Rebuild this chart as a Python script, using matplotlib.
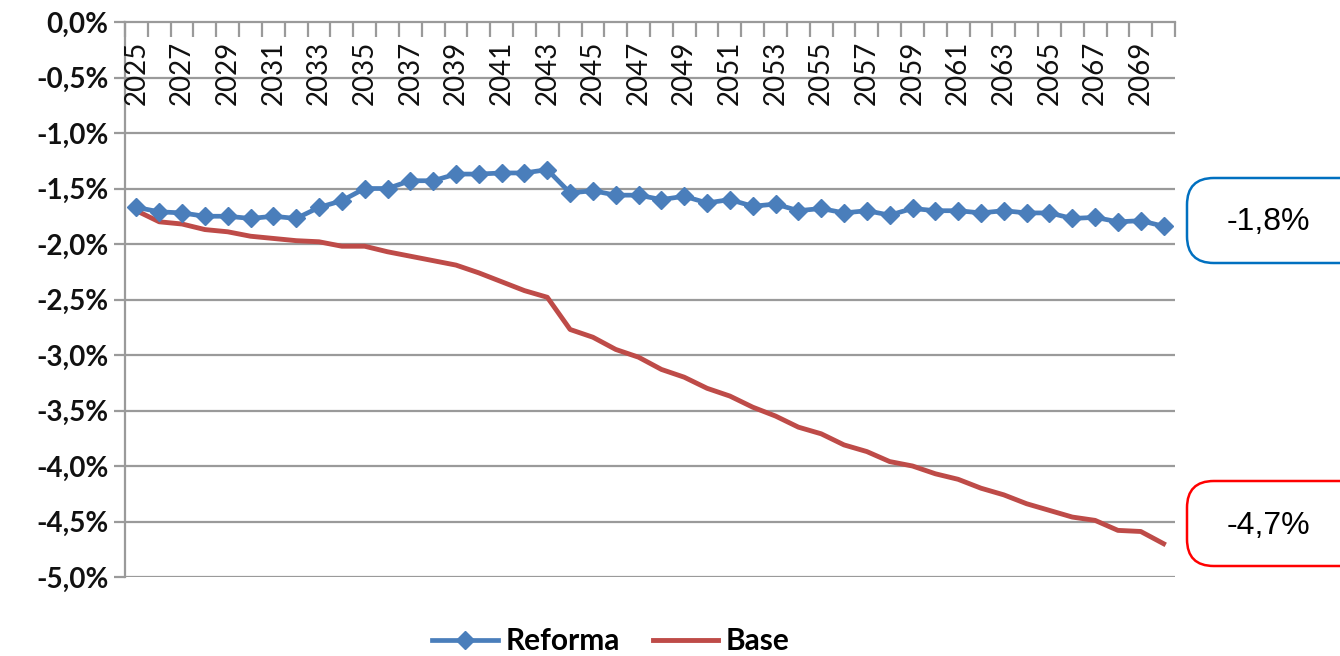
import matplotlib
matplotlib.use("Agg")
import matplotlib.pyplot as plt
from matplotlib.patches import FancyBboxPatch
from matplotlib.transforms import blended_transform_factory
import numpy as np

years = list(range(2025, 2071))
reforma = [-1.67, -1.71, -1.72, -1.75, -1.75, -1.77, -1.75, -1.77, -1.67, -1.61,
           -1.50, -1.50, -1.43, -1.43, -1.37, -1.37, -1.36, -1.36, -1.33, -1.54,
           -1.52, -1.56, -1.56, -1.60, -1.57, -1.63, -1.60, -1.66, -1.64, -1.70,
           -1.68, -1.72, -1.70, -1.74, -1.68, -1.70, -1.70, -1.72, -1.70, -1.72,
           -1.72, -1.77, -1.76, -1.80, -1.79, -1.84]
base = [-1.70, -1.80, -1.82, -1.87, -1.89, -1.93, -1.95, -1.97, -1.98, -2.02,
        -2.02, -2.07, -2.11, -2.15, -2.19, -2.26, -2.34, -2.42, -2.48, -2.77,
        -2.84, -2.95, -3.02, -3.13, -3.20, -3.30, -3.37, -3.47, -3.55, -3.65,
        -3.71, -3.81, -3.87, -3.96, -4.00, -4.07, -4.12, -4.20, -4.26, -4.34,
        -4.40, -4.46, -4.49, -4.58, -4.59, -4.70]
yticks = [0.0, -0.5, -1.0, -1.5, -2.0, -2.5, -3.0, -3.5, -4.0, -4.5, -5.0]
ytick_labels = ["0,0%", "-0,5%", "-1,0%", "-1,5%", "-2,0%", "-2,5%", "-3,0%",
                "-3,5%", "-4,0%", "-4,5%", "-5,0%"]
series_names = ["Reforma", "Base"]
end_labels = ["-1,8%", "-4,7%"]

W, H = 1340, 656
fig = plt.figure(figsize=(W / 100, H / 100), dpi=100)
ax = fig.add_axes([125 / W, 1 - 577 / H, 1050 / W, 555 / H])

x = np.arange(len(years))
blue = "#4A7EBB"
red = "#BE4B48"
grid_c = "#9A9A9A"
fam = ["Lato", "DejaVu Sans"]

ax.set_xlim(-0.5, len(years) - 0.5)
ax.set_ylim(-5.0, 0.0)

for yv in yticks[1:]:
    ax.axhline(yv, color=grid_c, lw=1.6, zorder=1)

l1, = ax.plot(x, reforma, color=blue, lw=3.4, marker="D", markersize=9.5,
              markeredgecolor=blue, zorder=3, label=series_names[0])
l2, = ax.plot(x, base, color=red, lw=3.5, zorder=2, label=series_names[1])

for s in ["right", "bottom"]:
    ax.spines[s].set_visible(False)
ax.spines["top"].set_color(grid_c)
ax.spines["top"].set_linewidth(1.6)
ax.spines["left"].set_color(grid_c)
ax.spines["left"].set_linewidth(1.6)

ax.set_yticks(yticks)
ax.set_yticklabels(ytick_labels, fontsize=20, fontweight="bold", family=fam,
                   color="#111111")
ax.tick_params(axis="y", direction="out", length=8, width=1.6, color=grid_c,
               pad=4)

# x ticks at category boundaries along top axis line
ax.xaxis.set_ticks_position("top")
ax.set_xticks(np.arange(len(years) + 1) - 0.5)
ax.set_xticklabels([])
ax.tick_params(axis="x", direction="in", length=11, width=1.6, color=grid_c)

trans = blended_transform_factory(ax.transData, ax.transAxes)
for i in range(0, len(years), 2):
    ax.text(x[i], 1 - 19 / 555, str(years[i]), transform=trans, rotation=90,
            ha="center", va="top", fontsize=20, family=fam, color="#111111")

fig.legend(handles=[l1, l2], labels=series_names, loc="center",
           bbox_to_anchor=(611 / W, 1 - 641 / H), ncol=2, frameon=False,
           prop={"family": fam, "weight": "bold", "size": 21.5},
           handlelength=2.2, handletextpad=0.25, columnspacing=1.1)

# annotation boxes
for (yc, col, txt) in [(220.5, "#0070C0", end_labels[0]), (523.5, "#FF0000", end_labels[1])]:
    h = 85
    box = FancyBboxPatch((1187 / W, 1 - (yc + h / 2) / H), 200 / W, h / H,
                         boxstyle="round,pad=0,rounding_size=0.02",
                         transform=fig.transFigure, facecolor="white",
                         edgecolor=col, lw=1.8, mutation_aspect=W / H)
    fig.patches.append(box)
    fig.text(1268 / W, 1 - (yc + 2) / H, txt, ha="center", va="center",
             fontsize=23, family=["Liberation Sans", "DejaVu Sans"], color="black")

fig.savefig("out.png", dpi=100)
